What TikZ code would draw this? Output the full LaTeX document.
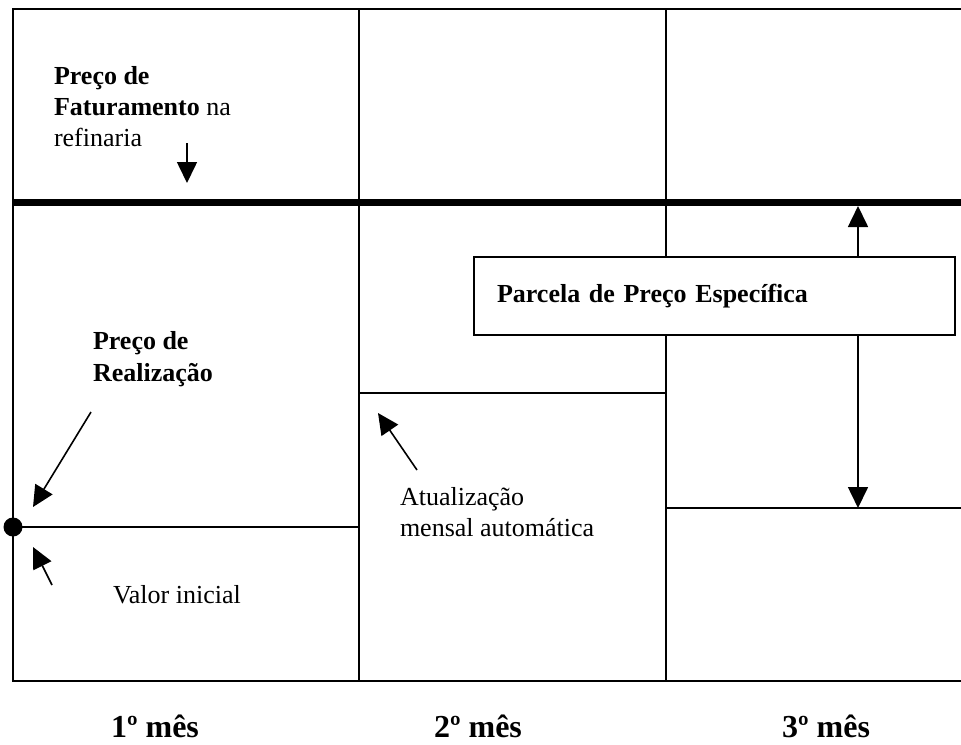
\documentclass[tikz,border=0pt]{standalone}
\usepackage{fontspec}
\setmainfont{Liberation Serif}
\usetikzlibrary{arrows.meta}
\begin{document}
\begin{tikzpicture}[x=0.5pt, y=-0.5pt, line width=1pt,
  txt/.style = {anchor=west, align=left, inner sep=0pt, font=\fontsize{13}{15.5}\selectfont},
  caixa/.style = {draw, fill=white, minimum width=240.5pt, minimum height=39pt, text width=217.5pt, align=left, font=\fontsize{13}{15.5}\selectfont\bfseries},
  mes/.style = {anchor=base, inner sep=0pt, font=\fontsize{16}{19}\selectfont\bfseries},
  seta/.style = {-{Triangle[length=10.5pt,width=10pt]}, line width=0.8pt}]
\useasboundingbox (0,0) rectangle (961,744);
% grade dos meses
\draw (961,9) -- (13,9) -- (13,681) -- (961,681);
\draw (359,9) -- (359,681);
\draw (666,9) -- (666,681);
\draw[line width=3.5pt] (13,202) -- (961,202);
\draw (13,527) -- (359,527);
\draw (359,393) -- (666,393);
\draw (666,508) -- (961,508);
% textos
\node[txt] (fat) at (53,107) {\textbf{Preço de}\\\textbf{Faturamento} na\\refinaria};
\node[txt, font=\fontsize{13}{16}\selectfont\bfseries] (real) at (92,359) {Preço de\\Realização};
\node[txt] (val) at (112,595) {Valor inicial};
\node[txt] (atu) at (399,512) {Atualização\\mensal automática};
\node[caixa] (parc) at (714.5,296) {Parcela de Preço Específica};
\node[circle, fill, inner sep=0pt, minimum size=9.5pt] (ponto) at (13,527) {};
% meses
\node[mes] (m1) at (155,737) {1º mês};
\node[mes] (m2) at (478,737) {2º mês};
\node[mes] (m3) at (826,737) {3º mês};
% setas
\coordinate (f1) at (187,143);
\coordinate (f2) at (187,183);
\coordinate (r1) at (91,412);
\coordinate (r2) at (33,507);
\coordinate (v1) at (52,585);
\coordinate (v2) at (33,547);
\coordinate (a1) at (417,470);
\coordinate (a2) at (378,413);
\coordinate (d1) at (858,206);
\coordinate (d2) at (858,508);
\draw[seta] (f1) -- (f2);
\draw[seta] (r1) -- (r2);
\draw[seta] (v1) -- (v2);
\draw[seta] (a1) -- (a2);
\draw[seta] (parc.north -| d1) -- (d1);
\draw[seta] (parc.south -| d2) -- (d2);
\end{tikzpicture}
\end{document}
